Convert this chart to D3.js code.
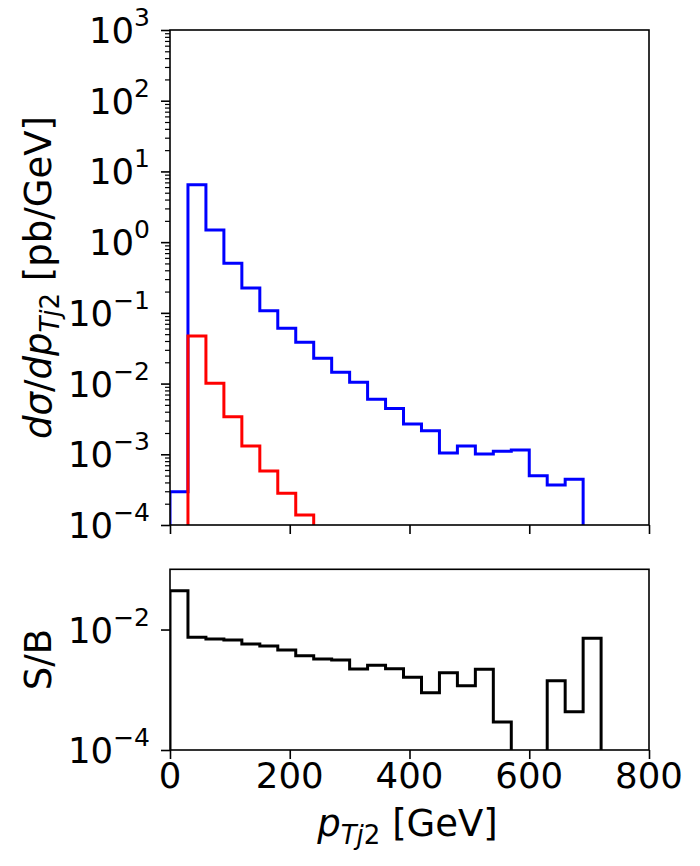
<!DOCTYPE html>
<html><head><meta charset="utf-8">
<script src="https://cdn.jsdelivr.net/npm/d3@7"></script>
<style>
body{margin:0;background:#fff}
svg text{font-family:"DejaVu Sans",sans-serif;fill:#000}
</style></head>
<body><svg id="c" width="700" height="866"></svg>
<script>
// ---- data ----
const binEdges = [0,30,60,90,120,150,180,210,240,270,300,330,360,390,420,450,480,510,540,570,600,630,660,690,720];
// blue histogram (bins 0-30 ... 660-690)
const blueValues = [2.96e-4,6.49,1.49,0.502,0.224,0.107,0.0604,0.0383,0.0228,0.0144,0.0104,0.00598,0.00444,0.00268,0.00215,0.00104,0.00131,0.00101,0.00110,0.00115,0.000498,0.000367,0.000443];
// red histogram (bins 0-30 ... 210-240)
const redValues = [0,0.0470,0.01007,0.0034,0.00131,0.00058,0.000281,0.000138];
// S/B ratio (bins 0-30 ... 690-720)
const sbValues = [0.0441,0.00743,0.00697,0.0067,0.00575,0.00533,0.00457,0.00368,0.00324,0.00312,0.00221,0.00255,0.00224,0.00161,0.000893,0.00192,0.00117,0.00219,0.000292,0,0,0.00141,0.000432,0.00715];
const xTicks = [0,200,400,600,800];
const topYTicks = [1e-4,1e-3,1e-2,1e-1,1e0,1e1,1e2,1e3];
const topYExps = ["−4","−3","−2","−1","0","1","2","3"];
const botYTicks = [1e-4,1e-2];
const botYExps = ["−4","−2"];

// ---- layout ----
const svg = d3.select("#c");
const L = 170, R = 649;
const top1 = 30, bot1 = 525;
const top2 = 569.3, bot2 = 750;
const FS = 35.5, SFS = 25, LFS = 37, LSFS = 26;

const x = d3.scaleLinear().domain([0,800]).range([L,R]);
const yTop = d3.scaleLog().domain([1e-4,1e3]).range([bot1,top1]);
const yBot = d3.scaleLog().domain([1e-4,1e-1]).range([bot2,top2]);

const defs = svg.append("defs");
defs.append("clipPath").attr("id","clipTop").append("rect")
  .attr("x",L).attr("y",top1).attr("width",R-L).attr("height",bot1-top1);
defs.append("clipPath").attr("id","clipBot").append("rect")
  .attr("x",L).attr("y",top2).attr("width",R-L).attr("height",bot2-top2);

function stepPoints(vals){
  const floor = 1e-12;
  const pts = [[binEdges[0], floor]];
  vals.forEach((v,i)=>{
    const vv = v > 0 ? v : floor;
    pts.push([binEdges[i], vv]);
    pts.push([binEdges[i+1], vv]);
  });
  pts.push([binEdges[vals.length], floor]);
  return pts;
}
function drawStep(g, vals, yS, color){
  const line = d3.line().x(d=>x(d[0])).y(d=>yS(d[1]));
  g.append("path").attr("d", line(stepPoints(vals)))
    .attr("fill","none").attr("stroke",color).attr("stroke-width",3)
    .attr("stroke-linejoin","miter");
}

// top panel
const gTop = svg.append("g").attr("clip-path","url(#clipTop)");
drawStep(gTop, blueValues, yTop, "#0000ff");
drawStep(gTop, redValues, yTop, "#ff0000");

// bottom panel
const gBot = svg.append("g").attr("clip-path","url(#clipBot)");
drawStep(gBot, sbValues, yBot, "#000000");

function styleAxis(g){
  g.select(".domain").remove();
  g.selectAll(".tick line").attr("stroke","#000").attr("stroke-width",1.6);
  g.selectAll(".tick text").remove();
}

// top y axis major + minor
const topMinor = [];
for (let e=-4; e<3; e++) for (let m=2; m<=9; m++) topMinor.push(m*Math.pow(10,e));
svg.append("g").attr("transform",`translate(${L},0)`)
  .call(d3.axisLeft(yTop).tickValues(topMinor).tickSize(5).tickFormat(""))
  .call(styleAxis).selectAll(".tick line").attr("stroke-width",1.2);
svg.append("g").attr("transform",`translate(${L},0)`)
  .call(d3.axisLeft(yTop).tickValues(topYTicks).tickSize(9).tickFormat(""))
  .call(styleAxis);
svg.append("g").attr("transform",`translate(0,${bot1})`)
  .call(d3.axisBottom(x).tickValues(xTicks).tickSize(9).tickFormat(""))
  .call(styleAxis);

// bottom axes
svg.append("g").attr("transform",`translate(${L},0)`)
  .call(d3.axisLeft(yBot).tickValues(botYTicks).tickSize(9).tickFormat(""))
  .call(styleAxis);
svg.append("g").attr("transform",`translate(0,${bot2})`)
  .call(d3.axisBottom(x).tickValues(xTicks).tickSize(9).tickFormat(""))
  .call(styleAxis);

// frames
[[top1,bot1],[top2,bot2]].forEach(([t,b])=>{
  svg.append("rect").attr("x",L).attr("y",t).attr("width",R-L).attr("height",b-t)
    .attr("fill","none").attr("stroke","#000").attr("stroke-width",1.6);
});

// y tick labels (10^n)
function powLabel(yPix, exp){
  const t = svg.append("text").attr("x",150).attr("y",yPix+13)
    .attr("text-anchor","end").style("font-size",FS+"px");
  t.append("tspan").text("10");
  t.append("tspan").attr("dy",-17).style("font-size",SFS+"px").text(exp);
}
topYTicks.forEach((v,i)=>powLabel(yTop(v), topYExps[i]));
botYTicks.forEach((v,i)=>powLabel(yBot(v), botYExps[i]));

// x tick labels
xTicks.forEach(v=>{
  svg.append("text").attr("x",x(v)).attr("y",788).attr("text-anchor","middle")
    .style("font-size",FS+"px").text(v);
});

// x label
const xl = svg.append("text").attr("x",(L+R)/2 - 2).attr("y",836)
  .attr("text-anchor","middle").style("font-size",LFS+"px");
xl.append("tspan").style("font-style","italic").text("p");
xl.append("tspan").attr("dy",8).style("font-size",LSFS+"px").style("font-style","italic").text("Tj");
xl.append("tspan").style("font-size",LSFS+"px").text("2");
xl.append("tspan").attr("dy",-8).text(" [GeV]");

// top y label
const yl = svg.append("text").attr("transform",`translate(51,${(top1+bot1)/2}) rotate(-90)`)
  .attr("text-anchor","middle").style("font-size",LFS+"px");
yl.append("tspan").style("font-style","italic").text("dσ");
yl.append("tspan").text("/");
yl.append("tspan").style("font-style","italic").text("dp");
yl.append("tspan").attr("dy",8).style("font-size",LSFS+"px").style("font-style","italic").text("Tj");
yl.append("tspan").style("font-size",LSFS+"px").text("2");
yl.append("tspan").attr("dy",-8).text(" [pb/GeV]");

// bottom y label
svg.append("text").attr("transform",`translate(51,${(top2+bot2)/2}) rotate(-90)`)
  .attr("text-anchor","middle").style("font-size",LFS+"px").text("S/B");
</script></body></html>
